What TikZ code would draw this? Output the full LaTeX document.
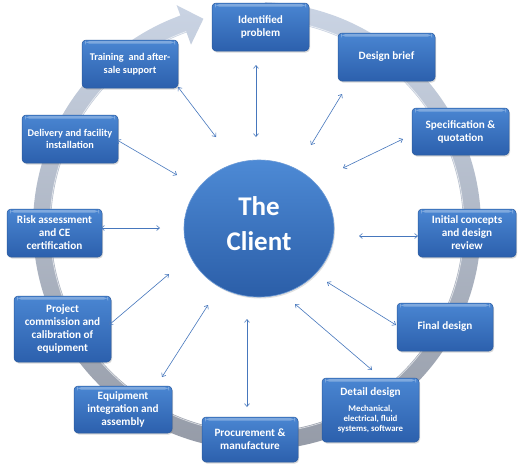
\documentclass[tikz,border=0pt]{standalone}
\usepackage{fontspec}
\setmainfont{Carlito}
\usetikzlibrary{shapes.geometric,arrows.meta,calc,shadows}
\definecolor{boxtop}{HTML}{4A86D2}
\definecolor{boxbot}{HTML}{2C60AD}
\definecolor{boxedge}{HTML}{2A5A9E}
\definecolor{circtop}{HTML}{4D8AD5}
\definecolor{circbot}{HTML}{2B5EA8}
\definecolor{circedge}{HTML}{6C9AD6}
\definecolor{ringtop}{HTML}{CAD4E4}
\definecolor{ringbot}{HTML}{949AA6}
\definecolor{linkblue}{HTML}{4677BD}
\newcommand\boxfnt{\fontsize{11.2}{13}\selectfont\bfseries}
\newcommand\smallboxfnt{\fontsize{10.3}{12.5}\selectfont\bfseries}
\newcommand\subfnt{\fontsize{8.8}{10}\selectfont\bfseries}
\tikzset{
  stagebox/.style={rectangle, rounded corners=4pt, draw=boxedge, line width=0.5pt,
    top color=boxtop, bottom color=boxbot, text=white, align=center, font=\boxfnt,
    inner sep=1pt,
    drop shadow={opacity=0.3, shadow xshift=1pt, shadow yshift=-1.5pt},
    path picture={\fill[white,opacity=0.3]
      ([xshift=3pt,yshift=-1.2pt]path picture bounding box.north west) rectangle
      ([xshift=-3pt,yshift=-3.5pt]path picture bounding box.north east);}},
  link/.style={draw=linkblue, line width=0.6pt,
    {Straight Barb[length=3pt,width=5pt]}-{Straight Barb[length=3pt,width=5pt]}}
}
\begin{document}
\begin{tikzpicture}[x=1pt,y=-1pt]
\useasboundingbox[fill=white] (0,0) rectangle (523,469);
% ring with arrow head
\coordinate (C) at (257,226);
\shade[top color=ringtop, bottom color=ringbot]
  ($(C)+(-88:224)$) arc[start angle=-88, end angle=250, radius=224]
  -- ($(C)+(250:235)$) -- ($(C)+(255.5:214)$) -- ($(C)+(250:193)$)
  -- ($(C)+(250:206)$) arc[start angle=250, end angle=-88, radius=206] -- cycle;
\draw[white,opacity=0.6,line width=0.8pt] ($(C)+(250:207)$) arc[start angle=250, end angle=-88, radius=207];

% client
\node[ellipse, minimum width=150pt, minimum height=137pt, draw=circedge, line width=0.6pt,
  top color=circtop, bottom color=circbot,
  drop shadow={opacity=0.25, shadow xshift=1pt, shadow yshift=-1.5pt}] (client) at (259,228.5) {};
\node[text=white, align=center, font=\fontsize{27}{35}\selectfont\bfseries] (clienttext) at (259,223.5) {The\\Client};

% stages
\node[stagebox, minimum width=97pt, minimum height=48pt] (idp) at (260.5,27) {Identified\\problem};
\node[stagebox, minimum width=97pt, minimum height=48pt] (brief) at (386.5,57) {Design brief};
\node[stagebox, minimum width=97pt, minimum height=47pt] (spec) at (460.5,131.5) {Specification \&\\quotation};
\node[stagebox, minimum width=98pt, minimum height=48pt] (init) at (467,233) {Initial concepts\\and design\\review};
\node[stagebox, minimum width=96pt, minimum height=48pt] (final) at (445,327) {Final design};
\node[stagebox, minimum width=97pt, minimum height=64pt, font=\subfnt] (detail) at (370.5,410)
  {{\boxfnt Detail design}\\[6pt]Mechanical,\\electrical, fluid\\systems, software};
\node[stagebox, minimum width=96pt, minimum height=45pt] (proc) at (250,439.5) {Procurement \&\\manufacture};
\node[stagebox, minimum width=98pt, minimum height=47pt] (equip) at (123,409.5) {Equipment\\integration and\\assembly};
\node[stagebox, minimum width=97pt, minimum height=66pt] (proj) at (62.5,329) {Project\\commission and\\calibration of\\equipment};
\node[stagebox, minimum width=95pt, minimum height=48pt] (risk) at (54.5,233) {Risk assessment\\and CE\\certification};
\node[stagebox, minimum width=96pt, minimum height=48pt, font=\smallboxfnt] (deliv) at (70,139) {Delivery and facility\\installation};
\node[stagebox, minimum width=96pt, minimum height=48pt, font=\smallboxfnt] (train) at (130,64) {Training\ \ and after-\\sale support};

% link end points
\coordinate (a1s) at (256,65);   \coordinate (a1e) at (256,137);
\coordinate (a2s) at (342,94);   \coordinate (a2e) at (311,145);
\coordinate (a3s) at (403,139);  \coordinate (a3e) at (343,168);
\coordinate (a4s) at (359,236);  \coordinate (a4e) at (418,236);
\coordinate (a5s) at (327,282);  \coordinate (a5e) at (396,325);
\coordinate (a6s) at (295,304);  \coordinate (a6e) at (372,370);
\coordinate (a7s) at (247,319);  \coordinate (a7e) at (247,407);
\coordinate (a8s) at (208,305);  \coordinate (a8e) at (162,377);
\coordinate (a9s) at (169,274);  \coordinate (a9e) at (109,325);
\coordinate (a10s) at (101,228); \coordinate (a10e) at (160,228);
\coordinate (a11s) at (117,140); \coordinate (a11e) at (177,175);
\coordinate (a12s) at (178,87);  \coordinate (a12e) at (216,137);
\foreach \i in {1,...,12}{\draw[link] (a\i s) -- (a\i e);}
\end{tikzpicture}
\end{document}
